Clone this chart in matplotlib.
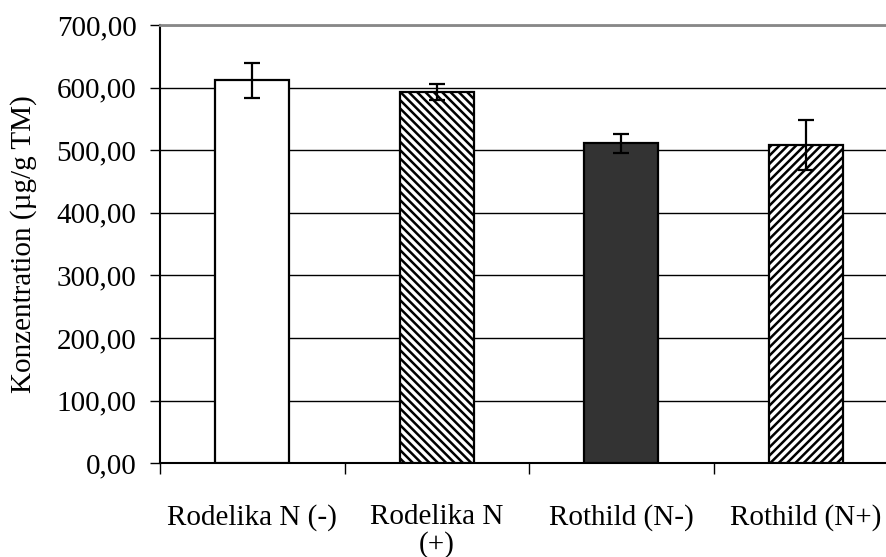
import numpy as np
import matplotlib.pyplot as plt
from matplotlib.ticker import FuncFormatter

plt.rcParams['font.family'] = ['Liberation Serif', 'DejaVu Serif']
plt.rcParams['hatch.linewidth'] = 1.8

# Konzentration je Sorte / N-Stufe
labels = ['Rodelika N (-)', 'Rodelika N\n(+)', 'Rothild (N-)', 'Rothild (N+)']
werte = [612, 593, 511, 508]
fehler = [28, 12, 15.5, 40]
farben = ['white', 'white', '#333333', 'white']
muster = ['', '\\\\\\\\', '', '////']

fig = plt.figure(figsize=(8.87, 5.57), dpi=100)
ax = fig.add_axes([160/887, 1-463.3/557, 738/887, (463.3-25)/557])

x = np.arange(len(werte))
for i in range(len(werte)):
    ax.bar(x[i], werte[i], width=0.40, color=farben[i], edgecolor='black',
           linewidth=1.6, hatch=muster[i], zorder=3)
ax.errorbar(x, werte, yerr=fehler, fmt='none', ecolor='black', elinewidth=1.6,
            capsize=6, capthick=1.6, zorder=4)

ax.set_xlim(-0.5, 3.5)
ax.set_ylim(0, 700)
ax.set_yticks(np.arange(0, 701, 100))
ax.yaxis.set_major_formatter(FuncFormatter(lambda v, p: f'{v:.2f}'.replace('.', ',')))
ax.yaxis.grid(True, color='black', linewidth=1.0, zorder=0)

ax.set_xticks(x)
ax.set_xticklabels(labels, linespacing=1.05)
ax.set_xticks(np.arange(-0.5, 3.0, 1.0), minor=True)
ax.tick_params(axis='x', which='major', length=0, pad=29, labelsize=21)
ax.tick_params(axis='x', which='minor', length=8, width=1.0, direction='out')
ax.tick_params(axis='y', length=7, width=1.0, direction='out', pad=10, labelsize=21)

ax.spines['right'].set_visible(False)
ax.spines['top'].set_color('#888888')
ax.spines['top'].set_linewidth(2.0)
ax.spines['left'].set_linewidth(1.5)
ax.spines['bottom'].set_linewidth(1.5)

ax.set_ylabel('Konzentration (µg/g TM)', fontsize=21, labelpad=14)

fig.savefig('out.png', dpi=100)
